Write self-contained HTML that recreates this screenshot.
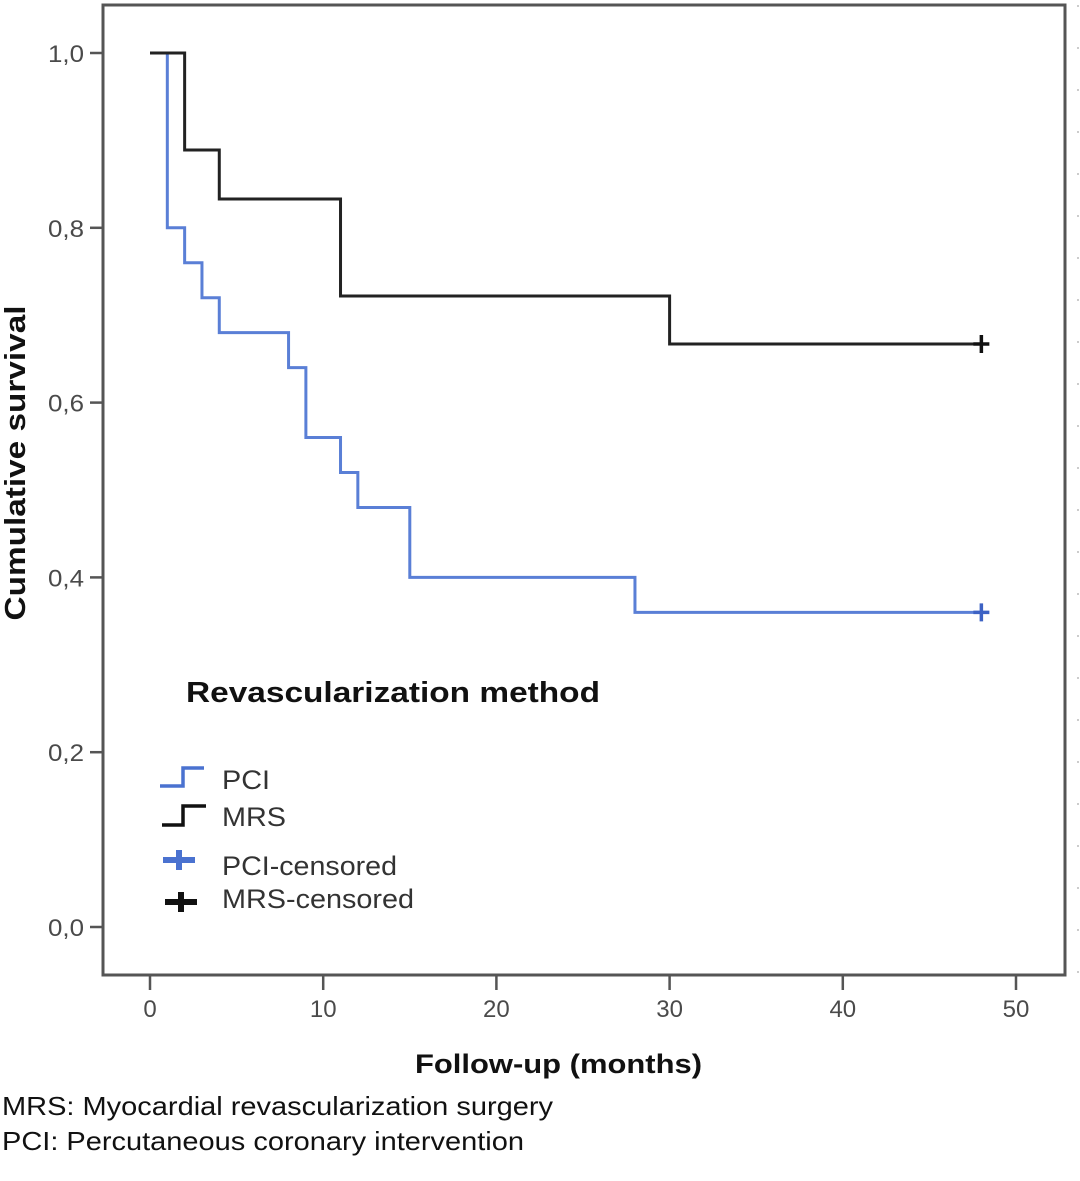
<!DOCTYPE html>
<html><head><meta charset="utf-8"><style>
html,body{margin:0;padding:0;background:#fff;}
svg{display:block;font-family:"Liberation Sans",Arial,sans-serif;}
</style></head><body>
<svg id="chart" width="1080" height="1181" viewBox="0 0 1080 1181">
<rect x="103" y="5" width="962" height="970" fill="#fff" stroke="#555" stroke-width="3"/>
<line x1="1078" y1="5" x2="1078" y2="975" stroke="#bbb" stroke-width="1.5" stroke-dasharray="2,40"/>
<g id="yticks"></g>
<g id="xticks"></g>
<g id="series"></g>
<text x="16" y="463" transform="rotate(-90 16 463)" text-anchor="middle" dominant-baseline="central" font-size="29" font-weight="bold" fill="#111" textLength="315" lengthAdjust="spacingAndGlyphs">Cumulative survival</text>
<text x="415" y="1073" font-size="27" font-weight="bold" fill="#111" textLength="287" lengthAdjust="spacingAndGlyphs">Follow-up  (months)</text>
<g>
<text x="186" y="702" font-size="29" font-weight="bold" fill="#111" textLength="414" lengthAdjust="spacingAndGlyphs">Revascularization method</text>
<path d="M160 786 H183 V768 H204" fill="none" stroke="#4a72d0" stroke-width="3.5"/>
<text x="222" y="789" font-size="27" fill="#333" textLength="48" lengthAdjust="spacingAndGlyphs">PCI</text>
<path d="M162 825 H183 V806 H206" fill="none" stroke="#111" stroke-width="3.5"/>
<text x="222" y="826" font-size="27" fill="#333" textLength="64" lengthAdjust="spacingAndGlyphs">MRS</text>
<path d="M163 860 H195 M179 850 V870" stroke="#4a72d0" stroke-width="6"/>
<text x="222" y="875" font-size="27" fill="#333" textLength="175" lengthAdjust="spacingAndGlyphs">PCI-censored</text>
<path d="M165 902 H197 M181 892 V912" stroke="#111" stroke-width="6"/>
<text x="222" y="908" font-size="27" fill="#333" textLength="192" lengthAdjust="spacingAndGlyphs">MRS-censored</text>
</g>
<text x="2" y="1115" font-size="26" fill="#111" textLength="551" lengthAdjust="spacingAndGlyphs">MRS: Myocardial revascularization surgery</text>
<text x="2" y="1150" font-size="26" fill="#111" textLength="522" lengthAdjust="spacingAndGlyphs">PCI: Percutaneous coronary intervention</text>
</svg>
<script>
const xTicks = [0, 10, 20, 30, 40, 50];
const yTicks = [0, 0.2, 0.4, 0.6, 0.8, 1.0];
const yTickLabels = ["0,0", "0,2", "0,4", "0,6", "0,8", "1,0"];
const pciTimes = [0, 1, 2, 3, 4, 8, 9, 11, 12, 15, 28, 48];
const pciSurv = [1.0, 0.80, 0.76, 0.72, 0.68, 0.64, 0.56, 0.52, 0.48, 0.40, 0.36, 0.36];
const mrsTimes = [0, 2, 4, 11, 30, 48];
const mrsSurv = [1.0, 0.889, 0.833, 0.722, 0.667, 0.667];
const pciCensorT = [48];
const pciCensorS = [0.36];
const mrsCensorT = [48];
const mrsCensorS = [0.667];

const NS = "http://www.w3.org/2000/svg";
const X = t => 150 + t * 17.32;
const Y = s => 927 - s * 874;
function mk(tag, attrs, parent){ const e=document.createElementNS(NS,tag); for(const k in attrs) e.setAttribute(k,attrs[k]); parent.appendChild(e); return e; }

const yg = document.getElementById('yticks');
yTicks.forEach((v,i)=>{
  const l = mk('line',{x1:90,x2:103,y1:Y(v),y2:Y(v),stroke:'#555','stroke-width':2.5},yg);
  
  
  const t = mk('text',{x:84,y:Y(v)+9,'text-anchor':'end','font-size':24,fill:'#4a4a4a',textLength:36,lengthAdjust:'spacingAndGlyphs'},yg);
  t.textContent = yTickLabels[i];
  
  
});
const xg = document.getElementById('xticks');
xTicks.forEach(v=>{
  const l = mk('line',{x1:X(v),x2:X(v),y1:975,y2:990,stroke:'#555','stroke-width':2.5},xg);
  
  
  const t = mk('text',{x:X(v),y:1017,'text-anchor':'middle','font-size':24,fill:'#4a4a4a'},xg);
  t.textContent = v;
  
  
});
const sg = document.getElementById('series');
function stepPath(ts, ss){
  let d = 'M'+X(ts[0])+' '+Y(ss[0]);
  for(let i=1;i<ts.length;i++){ d += ' H'+X(ts[i])+' V'+Y(ss[i]); }
  return d;
}
const pci = mk('path',{d:stepPath(pciTimes,pciSurv),fill:'none',stroke:'#5a7fd6','stroke-width':3},sg);


const mrs = mk('path',{d:stepPath(mrsTimes,mrsSurv),fill:'none',stroke:'#222','stroke-width':3},sg);


function censor(ts, ss, color, name){
  ts.forEach((t,i)=>{
    const p = mk('path',{d:`M${X(t)-8} ${Y(ss[i])} H${X(t)+8} M${X(t)} ${Y(ss[i])-9} V${Y(ss[i])+9}`,stroke:color,'stroke-width':3.5},sg);
    
    
  });
}
censor(mrsCensorT, mrsCensorS, '#111', 'mrs-censor-mark');
censor(pciCensorT, pciCensorS, '#3d62c4', 'pci-censor-mark');
</script>
</body></html>
